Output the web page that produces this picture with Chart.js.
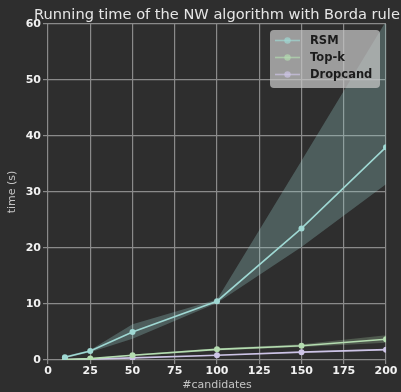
<!DOCTYPE html>
<html>
<head>
<meta charset="utf-8">
<script src="https://cdn.jsdelivr.net/npm/chart.js@4/dist/chart.umd.min.js"></script>
<style>
  html, body { margin: 0; padding: 0; background: #2e2e2e; }
  #wrap { width: 401px; height: 392px; }
</style>
</head>
<body>
<div id="wrap"><canvas id="c" width="401" height="392"></canvas></div>
<script>
// Number of candidates on the x axis
const candidates = [10, 25, 50, 100, 150, 200];
const xTicks = [0, 25, 50, 75, 100, 125, 150, 175, 200];
const yTicks = [0, 10, 20, 30, 40, 50, 60];

// Running time (s): mean and spread per method
const rsmMean  = [0.5, 1.6, 5.0, 10.5, 23.5, 38.0];
const rsmLow   = [0.3, 1.4, 3.8, 10.2, 20.2, 31.4];
const rsmHigh  = [0.7, 1.8, 6.4, 10.8, 35.6, 60.5];

const topkMean = [0.10, 0.25, 0.85, 1.90, 2.55, 3.70];
const topkLow  = [0.05, 0.20, 0.70, 1.70, 2.30, 3.10];
const topkHigh = [0.15, 0.30, 1.00, 2.10, 2.80, 4.40];

const dropMean = [0.08, 0.15, 0.38, 0.85, 1.40, 1.85];
const dropLow  = [0.05, 0.12, 0.32, 0.75, 1.30, 1.70];
const dropHigh = [0.11, 0.18, 0.44, 0.95, 1.50, 2.00];

const seriesNames = ['RSM', 'Top-k', 'Dropcand'];
const colors = ['#9fd8d3', '#b4dcb0', '#cdc4e6'];
const bandColors = ['rgba(159,216,211,0.28)', 'rgba(180,220,176,0.25)', 'rgba(205,196,230,0.22)'];

const pts = arr => candidates.map((x, i) => ({ x: x, y: arr[i] }));

function bandPair(high, low, idx) {
  return [
    { data: pts(high), borderWidth: 0, pointRadius: 0, fill: '+1',
      backgroundColor: bandColors[idx], order: 10 },
    { data: pts(low), borderWidth: 0, pointRadius: 0, fill: false,
      backgroundColor: bandColors[idx], order: 10 }
  ];
}

function meanLine(arr, idx) {
  return { label: seriesNames[idx], data: pts(arr), borderColor: colors[idx],
    backgroundColor: colors[idx], pointBackgroundColor: colors[idx],
    borderWidth: 1.6, pointRadius: 3, pointBorderWidth: 0, fill: false, order: 1 };
}

const datasets = [
  ...bandPair(rsmHigh, rsmLow, 0),
  ...bandPair(topkHigh, topkLow, 1),
  ...bandPair(dropHigh, dropLow, 2),
  meanLine(rsmMean, 0),
  meanLine(topkMean, 1),
  meanLine(dropMean, 2)
];

const gridColor = '#8a8a8a';

const decorations = {
  id: 'decorations',
  beforeDraw(chart) {
    const ctx = chart.ctx;
    ctx.save();
    ctx.fillStyle = '#2e2e2e';
    ctx.fillRect(0, 0, chart.width, chart.height);
    ctx.restore();
  },
  afterDraw(chart) {
    const ctx = chart.ctx;
    const area = chart.chartArea;
    ctx.save();
    // title
    ctx.fillStyle = '#e6e6e6';
    ctx.font = '14.6px "DejaVu Sans"';
    ctx.textAlign = 'center';
    ctx.textBaseline = 'alphabetic';
    ctx.fillText('Running time of the NW algorithm with Borda rule', (area.left + area.right) / 2, 19);

    // legend box
    const bx = 270, by = 30, bw = 110, bh = 58, r = 4;
    ctx.fillStyle = 'rgba(200,200,200,0.72)';
    ctx.beginPath();
    ctx.moveTo(bx + r, by);
    ctx.arcTo(bx + bw, by, bx + bw, by + bh, r);
    ctx.arcTo(bx + bw, by + bh, bx, by + bh, r);
    ctx.arcTo(bx, by + bh, bx, by, r);
    ctx.arcTo(bx, by, bx + bw, by, r);
    ctx.closePath();
    ctx.fill();

    const rows = [40.5, 57.5, 74.5];
    ctx.font = 'bold 11.5px "DejaVu Sans"';
    ctx.textAlign = 'left';
    ctx.textBaseline = 'middle';
    seriesNames.forEach((name, i) => {
      const y = rows[i];
      ctx.globalAlpha = 0.7;
      ctx.strokeStyle = colors[i];
      ctx.lineWidth = 1.6;
      ctx.beginPath();
      ctx.moveTo(275, y);
      ctx.lineTo(300, y);
      ctx.stroke();
      ctx.fillStyle = colors[i];
      ctx.beginPath();
      ctx.arc(287.5, y, 3.2, 0, Math.PI * 2);
      ctx.fill();
      ctx.globalAlpha = 1;
      ctx.fillStyle = '#1c1c1c';
      ctx.fillText(name, 310, y + 0.5);
    });
    ctx.restore();
  }
};

new Chart(document.getElementById('c'), {
  type: 'line',
  data: { datasets: datasets },
  plugins: [decorations],
  options: {
    responsive: false,
    animation: false,
    devicePixelRatio: 1,
    layout: { padding: { top: 24, right: 15, left: 0, bottom: 0 } },
    plugins: {
      legend: { display: false },
      tooltip: { enabled: false },
      filler: { propagate: false }
    },
    elements: { line: { tension: 0 } },
    scales: {
      x: {
        type: 'linear',
        min: 0, max: 200,
        afterBuildTicks: s => { s.ticks = xTicks.map(v => ({ value: v })); },
        afterFit: s => { s.height = 32; },
        grid: { color: gridColor, lineWidth: 1.2, tickLength: 4, drawTicks: true },
        border: { display: false },
        ticks: { color: '#f2f2f2', font: { family: 'DejaVu Sans', size: 11, weight: 'bold' },
                 padding: 1, maxRotation: 0, autoSkip: false },
        title: { display: true, text: '#candidates', color: '#c4c4c4',
                 font: { family: 'DejaVu Sans', size: 11 }, padding: { top: 0, bottom: 0 } }
      },
      y: {
        type: 'linear',
        min: 0, max: 60,
        afterBuildTicks: s => { s.ticks = yTicks.map(v => ({ value: v })); },
        afterFit: s => { s.width = 48; },
        grid: { color: gridColor, lineWidth: 1.2, tickLength: 5, drawTicks: true },
        border: { display: false },
        ticks: { color: '#f2f2f2', font: { family: 'DejaVu Sans', size: 11, weight: 'bold' },
                 padding: 2, autoSkip: false },
        title: { display: true, text: 'time (s)', color: '#c4c4c4',
                 font: { family: 'DejaVu Sans', size: 11 }, padding: { top: 6, bottom: 0 } }
      }
    }
  }
});
</script>
</body>
</html>
